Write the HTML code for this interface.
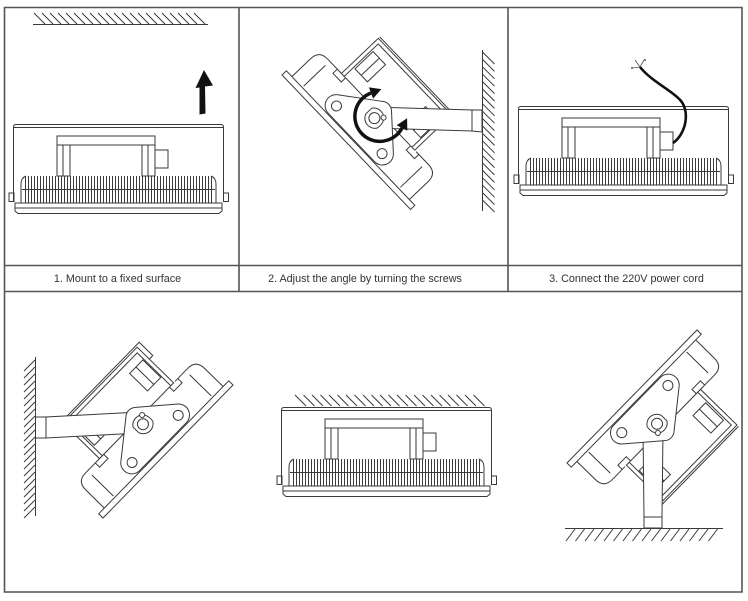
<!DOCTYPE html>
<html><head><meta charset="utf-8"><style>
html,body{margin:0;padding:0;background:#fff;}
svg{display:block;}
text{font-family:"Liberation Sans",sans-serif;font-size:10.8px;fill:#333;}
</style></head><body>
<svg width="748" height="601" viewBox="0 0 748 601" xmlns="http://www.w3.org/2000/svg">
<defs>
<g id="lamp" fill="none" stroke="#3a3a3a" stroke-width="1">
 <path d="M0.5,78 V3 Q0.5,0.5 3,0.5 H208 Q210.5,0.5 210.5,3 V78"/>
 <line x1="1" y1="3.5" x2="210" y2="3.5"/>
 <rect x="44" y="12" width="98" height="9"/>
 <rect x="44" y="21" width="13" height="31"/>
 <line x1="50" y1="21" x2="50" y2="52"/>
 <rect x="129" y="21" width="13" height="31"/>
 <line x1="135" y1="21" x2="135" y2="52"/>
 <rect x="142" y="26" width="13" height="18"/>
 <line x1="12" y1="65.5" x2="201" y2="65.5" stroke-width="27" stroke-dasharray="1 2"/>
 <line x1="9" y1="65.5" x2="202" y2="65.5"/>
 <path d="M8,79 V60 Q8,54 13,52"/>
 <path d="M203,79 V60 Q203,54 198,52"/>
 <rect x="-4" y="69" width="5" height="8.5"/>
 <rect x="210.5" y="69" width="5" height="8.5"/>
 <rect x="2" y="79" width="207" height="5"/>
 <path d="M2,84 V87 L5,89.5 H206 L209,87 V84"/>
</g>
<g id="tbody" fill="none" stroke="#3a3a3a" stroke-width="1">
 <rect x="0" y="0" width="186" height="6"/>
 <path d="M8,6 V32 Q8,44 20,44 H40"/>
 <path d="M178,6 V32 Q178,44 166,44 H148"/>
 <line x1="23" y1="8" x2="23" y2="38"/>
 <line x1="163" y1="8" x2="163" y2="38"/>
 <path d="M34,44 V38 H46 V44"/>
 <path d="M152,44 V38 H140 V44"/>
 <rect x="40" y="44" width="106" height="51"/>
 <path d="M44,44 V91 H142 V44"/>
 <path d="M146,78 H151 V97 H40"/>
 <rect x="46" y="57" width="18" height="25"/>
 <line x1="55" y1="57" x2="55" y2="82"/>
 <rect x="122" y="57" width="19" height="25"/>
 <line x1="131" y1="57" x2="131" y2="82"/>
</g>
<g id="tpiv" fill="#fff" stroke="#3a3a3a" stroke-width="1">
 <path d="M60,7 L126,7 A11,11 0 0 1 134,26 L102,54 A10,10 0 0 1 88,54 L52,26 A11,11 0 0 1 60,7 Z"/>
 <circle cx="60" cy="18" r="5"/>
 <circle cx="126" cy="18" r="5"/>
 <path d="M86,34 A10,10 0 0 1 104,32 Q106,42 98,46 Q90,48 86,42 Z"/>
 <circle cx="95" cy="37" r="5.5"/>
 <circle cx="101" cy="44" r="2.5"/>
</g>
</defs>

<!-- grid -->
<path d="M4.5,7.5 H742 V592 H4.5 Z M4.5,265.5 H742 M4.5,291.5 H742 M239,7.5 V291.5 M508,7.5 V291.5" stroke="#555" stroke-width="1.6" fill="none"/>

<!-- captions -->
<text x="117.5" y="282" text-anchor="middle">1. Mount to a fixed surface</text>
<text x="365" y="282" text-anchor="middle">2. Adjust the angle by turning the screws</text>
<text x="626.5" y="282" text-anchor="middle">3. Connect the 220V power cord</text>

<!-- Panel 1 -->
<g stroke="#3a3a3a" stroke-width="1" fill="none">
 <path d="M33,24.5 H208"/>
 <path d="M34,13 l11,11 m-3,-11 l11,11 m-3,-11 l11,11 m-3,-11 l11,11 m-3,-11 l11,11 m-3,-11 l11,11 m-3,-11 l11,11 m-3,-11 l11,11 m-3,-11 l11,11 m-3,-11 l11,11 m-3,-11 l11,11 m-3,-11 l11,11 m-3,-11 l11,11 m-3,-11 l11,11 m-3,-11 l11,11 m-3,-11 l11,11 m-3,-11 l11,11 m-3,-11 l11,11 m-3,-11 l11,11 m-3,-11 l11,11 m-3,-11 l11,11"/>
</g>
<polygon points="204,70 213,85.5 205,86.5 205.5,113.5 199.5,114.5 199.5,87.5 195.5,88" fill="#111"/>
<use href="#lamp" transform="translate(13,124)"/>

<!-- Panel 3 -->
<use href="#lamp" transform="translate(518,106)"/>
<path d="M673,143 C686,134 690,112 681,101 C673,91 652,82 640,67" stroke="#111" stroke-width="2.6" fill="none"/>
<path d="M640,67 l-8,1 M640,67 l-5,-7 M640,67 l4,-7" stroke="#555" stroke-width="0.8" fill="none"/>
<circle cx="632" cy="68" r="1" fill="#555"/>
<circle cx="645" cy="60" r="1" fill="#555"/>

<!-- Panel 2 -->
<g stroke="#3a3a3a" stroke-width="1" fill="none">
 <path d="M482.5,50 V211"/>
 <path d="M482.5,52 l12,12 m-12,-4.6 l12,12 m-12,-4.6 l12,12 m-12,-4.6 l12,12 m-12,-4.6 l12,12 m-12,-4.6 l12,12 m-12,-4.6 l12,12 m-12,-4.6 l12,12 m-12,-4.6 l12,12 m-12,-4.6 l12,12 m-12,-4.6 l12,12 m-12,-4.6 l12,12 m-12,-4.6 l12,12 m-12,-4.6 l12,12 m-12,-4.6 l12,12 m-12,-4.6 l12,12 m-12,-4.6 l12,12 m-12,-4.6 l12,12 m-12,-4.6 l12,12 m-12,-4.6 l12,12 m-12,-4.6 l12,12"/>
</g>
<use href="#tbody" transform="matrix(0.691,0.723,0.723,-0.691,282,75)"/>
<polygon points="372,107 472,110 472,131 372,128" fill="#fff" stroke="#3a3a3a" stroke-width="1"/>
<polygon points="472,110 482,110 482,132 472,131" fill="#fff" stroke="#3a3a3a" stroke-width="1"/>
<use href="#tpiv" transform="matrix(0.691,0.723,0.723,-0.691,282,75)"/>
<path d="M371,93 A25,25 0 1 0 402,128" stroke="#111" stroke-width="3.5" fill="none"/>
<polygon points="381.3,89.1 373.1,98.6 368.9,87.4" fill="#111"/>
<polygon points="407.1,118.3 407.3,130.8 396.7,125.2" fill="#111"/>

<!-- Panel 4 -->
<g stroke="#3a3a3a" stroke-width="1" fill="none">
 <path d="M35.5,357 V516"/>
 <path d="M35,360 l-11,11 m11,-4 l-11,11 m11,-4 l-11,11 m11,-4 l-11,11 m11,-4 l-11,11 m11,-4 l-11,11 m11,-4 l-11,11 m11,-4 l-11,11 m11,-4 l-11,11 m11,-4 l-11,11 m11,-4 l-11,11 m11,-4 l-11,11 m11,-4 l-11,11 m11,-4 l-11,11 m11,-4 l-11,11 m11,-4 l-11,11 m11,-4 l-11,11 m11,-4 l-11,11 m11,-4 l-11,11 m11,-4 l-11,11 m11,-4 l-11,11 m11,-4 l-11,11"/>
</g>
<use href="#tbody" transform="matrix(0.699,-0.715,-0.715,-0.699,103,518)"/>
<polygon points="140,412 46,417 46,438 140,433" fill="#fff" stroke="#3a3a3a" stroke-width="1"/>
<polygon points="35.5,417 46,417 46,438 35.5,438" fill="#fff" stroke="#3a3a3a" stroke-width="1"/>
<use href="#tpiv" transform="matrix(0.699,-0.715,-0.715,-0.699,103,518)"/>

<!-- Panel 5 -->
<path d="M295,395 l11,11 m-2.5,-11 l11,11 m-2.5,-11 l11,11 m-2.5,-11 l11,11 m-2.5,-11 l11,11 m-2.5,-11 l11,11 m-2.5,-11 l11,11 m-2.5,-11 l11,11 m-2.5,-11 l11,11 m-2.5,-11 l11,11 m-2.5,-11 l11,11 m-2.5,-11 l11,11 m-2.5,-11 l11,11 m-2.5,-11 l11,11 m-2.5,-11 l11,11 m-2.5,-11 l11,11 m-2.5,-11 l11,11 m-2.5,-11 l11,11 m-2.5,-11 l11,11 m-2.5,-11 l11,11 m-2.5,-11 l11,11 m-2.5,-11 l11,11" stroke="#3a3a3a" stroke-width="1" fill="none"/>
<use href="#lamp" transform="translate(281,407)"/>

<!-- Panel 6 -->
<g stroke="#3a3a3a" stroke-width="1" fill="none">
 <path d="M565,528.5 H723"/>
 <path d="M575,529 l-9,12 m18.5,-12 l-9,12 m18.5,-12 l-9,12 m18.5,-12 l-9,12 m18.5,-12 l-9,12 m18.5,-12 l-9,12 m18.5,-12 l-9,12 m18.5,-12 l-9,12 m18.5,-12 l-9,12 m18.5,-12 l-9,12 m18.5,-12 l-9,12 m18.5,-12 l-9,12 m18.5,-12 l-9,12 m18.5,-12 l-9,12 m18.5,-12 l-9,12 m18.5,-12 l-9,12"/>
</g>
<use href="#tbody" transform="matrix(-0.699,0.715,0.715,0.699,697,330)"/>
<polygon points="643,430 663,430 662,517 644,517" fill="#fff" stroke="#3a3a3a" stroke-width="1"/>
<polygon points="644,517 662,517 662,528 644,528" fill="#fff" stroke="#3a3a3a" stroke-width="1"/>
<use href="#tpiv" transform="matrix(-0.699,0.715,0.715,0.699,697,330)"/>
</svg>
</body></html>
